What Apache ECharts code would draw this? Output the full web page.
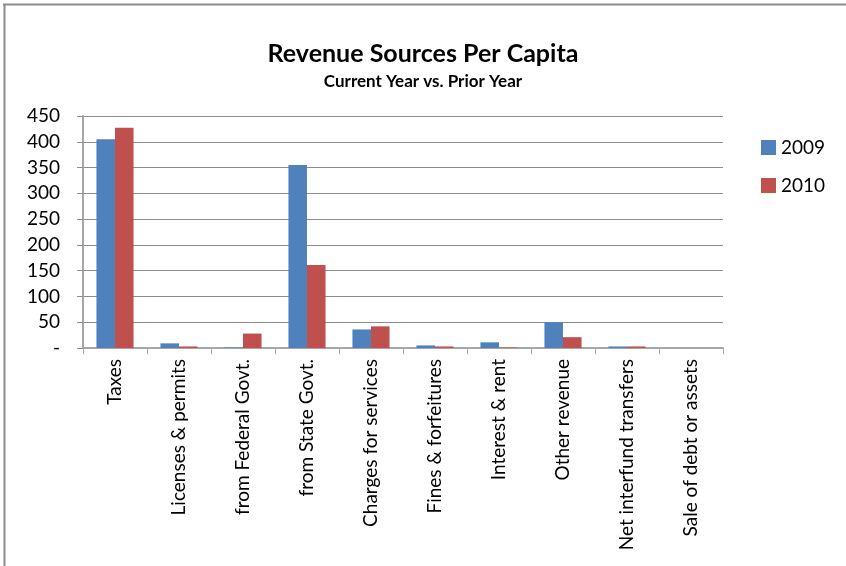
<!DOCTYPE html>
<html>
<head>
<meta charset="utf-8">
<script src="https://cdn.jsdelivr.net/npm/echarts@6/dist/echarts.min.js"></script>
<style>
  html, body { margin: 0; padding: 0; background: #fff; }
  #chart { width: 846px; height: 566px; }
</style>
</head>
<body>
<div id="chart"></div>
<script>
// Revenue sources per capita, two fiscal years side by side
const categories = [
  'Taxes', 'Licenses & permits', 'from Federal Govt.', 'from State Govt.',
  'Charges for services', 'Fines & forfeitures', 'Interest & rent',
  'Other revenue', 'Net interfund transfers', 'Sale of debt or assets'
];
const values2009 = [405, 9, 1, 355, 36, 5, 11, 50, 3, 0];
const values2010 = [427, 3, 28, 161, 42, 3, 1, 21, 3, 0];
const yTicks = [0, 50, 100, 150, 200, 250, 300, 350, 400, 450];

const font = 'Lato, "Open Sans", sans-serif';
const chart = echarts.init(document.getElementById('chart'), null, { renderer: 'canvas' });

chart.setOption({
  animation: false,
  backgroundColor: '#ffffff',
  title: {
    text: 'Revenue Sources Per Capita',
    subtext: 'Current Year vs. Prior Year',
    left: 'center',
    top: 41,
    padding: 0,
    itemGap: 7,
    textStyle: { fontFamily: font, fontWeight: 'bold', fontSize: 25, color: '#000' },
    subtextStyle: { fontFamily: font, fontWeight: 'bold', fontSize: 17, color: '#000' }
  },
  legend: {
    orient: 'vertical',
    left: 761,
    top: 138,
    padding: 0,
    itemWidth: 15,
    itemHeight: 15,
    itemGap: 19,
    icon: 'rect',
    textStyle: { fontFamily: font, fontSize: 19, color: '#000', padding: [0, 0, 0, 0] },
    data: ['2009', '2010']
  },
  grid: { left: 83, right: 123, top: 116, bottom: 218, containLabel: false },
  xAxis: {
    type: 'category',
    data: categories,
    boundaryGap: true,
    axisLine: { lineStyle: { color: '#a6a6a6', width: 2 } },
    axisTick: { show: true, length: 6, lineStyle: { color: '#a6a6a6', width: 1 } },
    axisLabel: {
      rotate: 90,
      interval: 0,
      margin: 11,
      fontFamily: font,
      fontSize: 19,
      color: '#000'
    }
  },
  yAxis: {
    type: 'value',
    min: 0,
    max: 450,
    interval: 50,
    axisLine: { show: true, lineStyle: { color: '#a6a6a6', width: 2 } },
    axisTick: { show: true, length: 6, lineStyle: { color: '#8c8c8c' } },
    splitLine: { lineStyle: { color: '#8c8c8c', width: 1 } },
    axisLabel: {
      margin: 23,
      fontFamily: font,
      fontSize: 19,
      color: '#000',
      formatter: v => (yTicks.includes(v) ? (v === 0 ? '-' : String(v)) : '')
    }
  },
  series: [
    {
      name: '2009', type: 'bar', data: values2009,
      itemStyle: { color: '#4f81bd' },
      barGap: '0%', barCategoryGap: '42%'
    },
    {
      name: '2010', type: 'bar', data: values2010,
      itemStyle: { color: '#c0504d' },
      barGap: '0%', barCategoryGap: '42%'
    }
  ],
  graphic: [
    // chart frame edges
    { type: 'line', shape: { x1: 3, y1: 4.5, x2: 846, y2: 4.5 }, style: { stroke: '#8c8c8c', lineWidth: 2 } },
    { type: 'line', shape: { x1: 4.5, y1: 4, x2: 4.5, y2: 566 }, style: { stroke: '#8c8c8c', lineWidth: 2 } }
  ]
});
</script>
</body>
</html>
